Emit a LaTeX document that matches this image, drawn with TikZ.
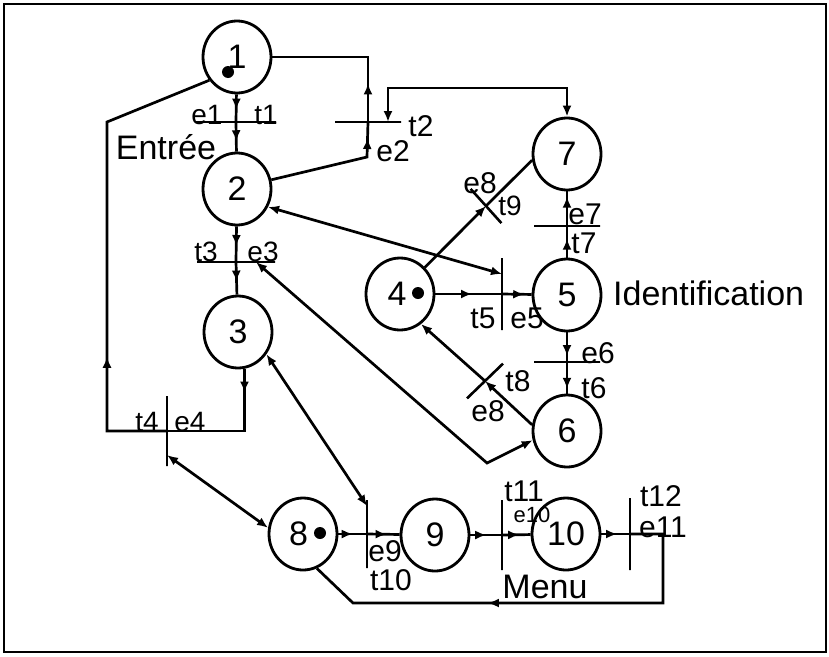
\documentclass[tikz,border=0pt]{standalone}
\usepackage{fontspec}
\setmainfont{Liberation Sans}
\usetikzlibrary{positioning,arrows.meta,shapes.geometric,decorations.markings}

\begin{document}
\begin{tikzpicture}[
    x=1pt,y=-1pt,
    pl/.style={draw,ellipse,line width=2.8pt,minimum width=68pt,minimum height=72pt,inner sep=0pt,font=\fontsize{34}{34}\selectfont},
    hbar/.style={draw,line width=2.6pt,minimum width=#1,minimum height=0pt,inner sep=0pt,outer sep=0pt},
    vbar/.style={draw,line width=2.6pt,minimum height=#1,minimum width=0pt,inner sep=0pt,outer sep=0pt},
    tok/.style={circle,fill,inner sep=0pt,minimum size=12pt},
    lab/.style={inner sep=0pt,font=\fontsize{30}{30}\selectfont},
    labs/.style={inner sep=0pt,font=\fontsize{28}{28}\selectfont},
    big/.style={inner sep=0pt,font=\fontsize{34}{34}\selectfont},
    link/.style={line width=2.7pt},
    midarr/.style={postaction={decorate},decoration={markings,mark=at position #1 with {\arrow{Latex[length=11pt,width=9pt]}}}},
    >={Latex[length=11pt,width=9pt]},
  ]
    \useasboundingbox (0,0) rectangle (829,656);
    \draw[line width=1.4pt] (4,4) rectangle (826,652);

    \node[pl] (P1)  at (237,57)  {1};
    \node[pl] (P2)  at (237,189) {2};
    \node[pl] (P3)  at (238,332) {3};
    \node[pl] (P4)  at (400,294) {\kern-6pt 4};
    \node[pl] (P5)  at (567,295) {5};
    \node[pl] (P6)  at (567,431) {6};
    \node[pl] (P7)  at (567,154) {7};
    \node[pl] (P8)  at (303,534) {\kern-9pt 8};
    \node[pl] (P9)  at (435,535) {9};
    \node[pl] (P10) at (566,534) {10};
    \node[tok] (k1) at (228,72)  {};
    \node[tok] (k4) at (418,293) {};
    \node[tok] (k8) at (320,533) {};

    \node[hbar=80pt] (T1) at (236,122) {};
    \node[hbar=66pt] (T2) at (368,122) {};
    \node[hbar=78pt] (T3) at (236,262) {};
    \node[vbar=70pt] (T4) at (167,431) {};
    \node[vbar=72pt] (T5) at (502,294) {};
    \node[hbar=66pt] (T6) at (567,362) {};
    \node[hbar=66pt] (T7) at (567,226) {};
    \node[hbar=50pt,rotate=44]  (T8) at (485,381) {};
    \node[hbar=46pt,rotate=-48] (T9) at (486,206) {};
    \node[vbar=68pt] (T10) at (367,534) {};
    \node[vbar=70pt] (T11) at (502,535) {};
    \node[vbar=72pt] (T12) at (630,534) {};

    \coordinate (b2)  at (367,157);
    \coordinate (b7)  at (567,88);
    \coordinate (bL)  at (107,122);
    \coordinate (b6)  at (487,463);
    \coordinate (bM2) at (663,603);
    \coordinate (bM3) at (353,603);

    \draw[link,midarr=0.55] (P1) -- (T1);
    \draw[link,midarr=0.65] (T1) -- (P2);
    \draw[link,midarr=0.88] (P2.15) -- (b2) -- (T2);
    \draw[link,midarr=0.24] (T2) |- (P1.east);
    \draw[link,<->] ([xshift=20pt]T2.center) |- (b7) -- (P7);
    \draw[link,midarr=0.55] (P2) -- (T3);
    \draw[link,midarr=0.6] (T3) -- (P3);
    \draw[link,midarr=0.17] (P3.-80) |- (T4);
    \draw[link,midarr=0.28] (T4) -| (bL) -- (P1.220);
    \draw[link,<->] ([yshift=11pt]T4.south) -- (P8.170);
    \draw[link,<->] ([xshift=20pt]T3.center) -- (b6) -- (P6.195);
    \draw[link,<->] (P2.-30) -- ([yshift=-16pt]T5.north);
    \draw[link,midarr=0.55] (P4) -- (T5);
    \draw[link,midarr=0.75] (T5) -- (P5);
    \draw[link,midarr=0.6] (P5) -- (T7);
    \draw[link,midarr=0.85] (T7) -- (P7);
    \draw[link,midarr=0.8] (P5) -- (T6);
    \draw[link,midarr=0.85] (T6) -- (P6);
    \draw[link,->] (P4.47) -- (T9);
    \draw[link] (T9) -- (P7.190);
    \draw[link,->] (P6.170) -- (T8);
    \draw[link,->] (T8) -- (P4.-55);
    \draw[link,<->] (P3.-38) -- ([yshift=-6pt]T10.north);
    \draw[link,midarr=0.5] (P8) -- (T10);
    \draw[link,midarr=0.6] (T10) -- (P9);
    \draw[link,midarr=0.5] (P9) -- (T11);
    \draw[link,midarr=0.6] (T11) -- (P10);
    \draw[link,midarr=0.55] (P10) -- (T12);
    \draw[link,midarr=0.6] (T12) -| (bM2) -- (bM3) -- (P8.-68);

    \node[labs] (Le1) at (207,115) {e1};
    \node[labs] (Lt1) at (266,115) {t1};
    \node[big] (Lent) at (166,147) {Entrée};
    \node[lab] (Lt2) at (421,126) {t2};
    \node[lab] (Le2) at (393,151) {e2};
    \node[labs] (Lt3) at (206,252) {t3};
    \node[labs] (Le3) at (263,252) {e3};
    \node[labs] (Lt4) at (147,422) {t4};
    \node[labs] (Le4) at (190,422) {e4};
    \node[lab] (Le8a) at (480,183) {e8};
    \node[labs] (Lt9) at (510,206) {t9};
    \node[lab] (Le7) at (585,214) {e7};
    \node[lab] (Lt7) at (584,243) {t7};
    \node[lab] (Lt5) at (483,318) {t5};
    \node[lab] (Le5) at (527,318) {e5};
    \node[big,anchor=west] (Lid) at (613,293) {Identification};
    \node[lab] (Le6) at (598,353) {e6};
    \node[lab] (Lt6) at (594,388) {t6};
    \node[lab] (Lt8) at (518,381) {t8};
    \node[lab] (Le8b) at (488,411) {e8};
    \node[lab] (Le9) at (385,551) {e9};
    \node[lab] (Lt10) at (391,580) {t10};
    \node[lab] (Lt11) at (524,491) {t11};
    \node[inner sep=0pt,font=\fontsize{22}{22}\selectfont] (Le10) at (532,515) {e10};
    \node[big] (Lmenu) at (545,587) {Menu};
    \node[lab] (Lt12) at (661,496) {t12};
    \node[lab] (Le11) at (663,527) {e11};
\end{tikzpicture}
\end{document}
